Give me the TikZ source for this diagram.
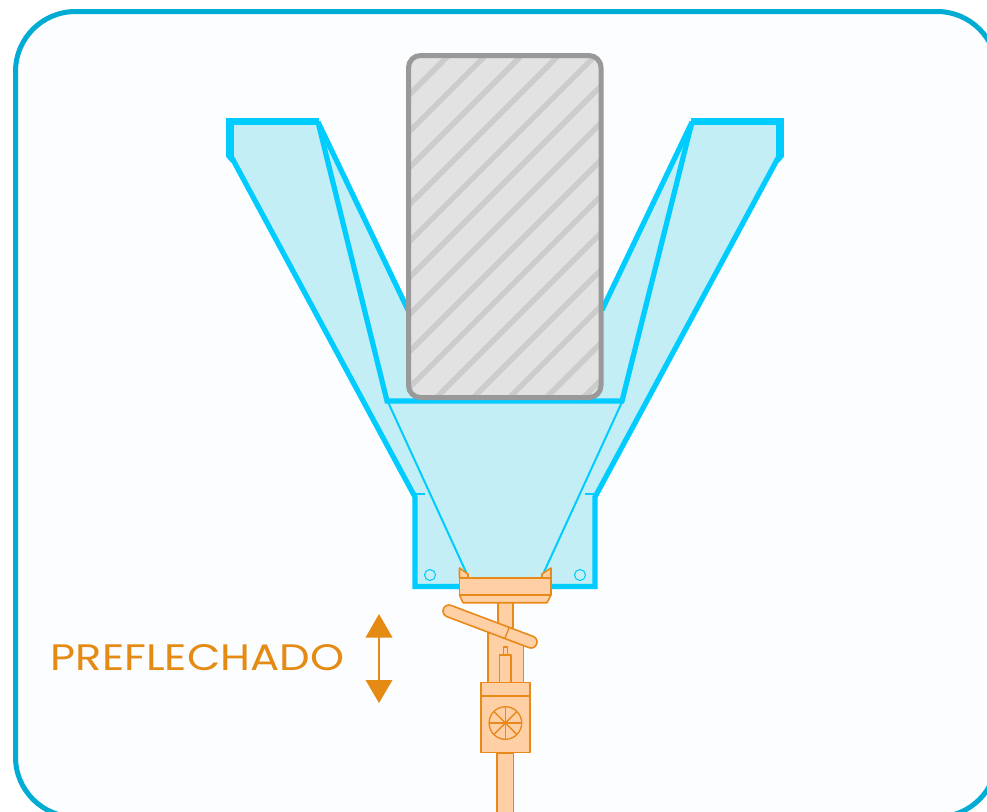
\documentclass[tikz,border=0pt]{standalone}
\usetikzlibrary{calc}
\usepackage{fontspec}
\usepackage{graphicx}
\newfontfamily\labelfont{Poppins}
\definecolor{panelline}{HTML}{00ACD4}
\definecolor{panelfill}{HTML}{FBFDFF}
\definecolor{cyanline}{HTML}{00CCFF}
\definecolor{cyanfill}{HTML}{C3EEF5}
\definecolor{greyline}{HTML}{999999}
\definecolor{greyfill}{HTML}{E2E2E2}
\definecolor{hatchline}{HTML}{CCCCCC}
\definecolor{orline}{HTML}{E8891A}
\definecolor{orfill}{HTML}{FFD0A6}
\definecolor{ortext}{HTML}{E58A12}
\tikzset{
  panel/.style={draw=panelline,fill=panelfill,line width=3.75pt},
  thickcy/.style={draw=cyanline,line width=5.6pt,miter limit=10},
  midcy/.style={draw=cyanline,line width=3.9pt},
  thincy/.style={draw=cyanline,line width=1.5pt},
  hairline/.style={draw=cyanline,line width=0.8pt},
  part/.style={draw=orline,fill=orfill,line width=1.2pt,line join=round},
  partline/.style={draw=orline,line width=1pt},
  hatchstroke/.style={draw=hatchline,line width=4.2pt},
}
\begin{document}
\begin{tikzpicture}[x=0.75pt,y=-0.75pt]
\useasboundingbox (0,0) rectangle (987,811);
\clip (0,0) rectangle (987,811);
\fill[white] (0,0) rectangle (987,811);
\path[panel,rounded corners=45pt] (15.5,11.5) rectangle (997,817);
% funnel fill
\fill[cyanfill] (230,122) -- (319,122) -- (407,310) -- (603,310) -- (692,122) -- (779,122) -- (779,158) -- (595,497) -- (595,586) -- (415,586) -- (415,497) -- (230,158) -- cycle;
% funnel outlines
\draw[midcy] (232,158) -- (415,497) -- (415,586.5) -- (595,586.5) -- (595,497) -- (778,158);
\draw[midcy] (318,122) -- (408,310);
\draw[midcy] (692,122) -- (602,310);
\draw[midcy,line join=miter] (318,122) -- (387,401) -- (622,401) -- (692,122);
\draw[thickcy] (230,157) -- (230,121.5) -- (319,121.5);
\draw[thickcy] (691,121.5) -- (780,121.5) -- (780,157);
\fill[cyanline] (226.3,157) -- (233.7,157) -- (236,160) -- (231,162.5) -- cycle;
\fill[cyanline] (783.7,157) -- (776.3,157) -- (774,160) -- (779,162.5) -- cycle;
\draw[thincy] (388,402) -- (466,572);
\draw[thincy] (622,402) -- (544,572);
\draw[hairline] (416,494) -- (425,494);
\draw[hairline] (594,494) -- (585,494);
\draw[hairline] (430,575) circle (5.5);
\draw[hairline] (580,575) circle (5.5);
% grey block
\begin{scope}
\clip[rounded corners=9pt] (408.5,55.5) rectangle (601,397.5);
\fill[greyfill] (408.5,55.5) rectangle (601,397.5);
\foreach \s in {504,541,577,614,651,687,724,761,797,834,871,907,944,981}{
  \draw[hatchstroke] (\s-420,420) -- (\s-30,30);
}
\end{scope}
\draw[greyline,line width=3.75pt,rounded corners=9pt] (408.5,55.5) rectangle (601,397.5);
% orange mechanism
\path[part] (497,753) rectangle (513.5,830);
\path[part] (488,633) rectangle (523.5,684);
\path[part] (498,602) rectangle (513,628);
\path[part] (503.5,647) rectangle (507.5,655);
\path[part] (499.5,655) rectangle (511,683);
\path[part,rounded corners=4.4pt] (445.5,603.3) -- (538.7,638.5) -- (534.5,649.7) -- (441.3,614.5) -- cycle;
\draw[partline] (509,628) -- (505,638);
\path[part] (481,682.5) rectangle (530,752.5);
\draw[partline] (481,696) -- (530,696);
\draw[partline] (505.4,723) circle (16.3);
\foreach \a in {0,45,...,135}{
  \draw[partline] ($(505.4,723)+(\a:16.3)$) -- ($(505.4,723)+(\a+180:16.3)$);
}
\path[part] (459.5,568) -- (468,574) -- (468,578) -- (459.5,578) -- cycle;
\path[part] (551,568) -- (542,574) -- (542,578) -- (551,578) -- cycle;
\path[part] (459.5,578) rectangle (551,595);
\path[part] (459.5,595) -- (463,602.7) -- (547,602.7) -- (551,595) -- cycle;
% arrow
\coordinate (arrowtop) at (379,637);
\coordinate (arrowbottom) at (379,680);
\draw[orline,line width=1.5pt] (arrowtop) -- (arrowbottom);
\fill[ortext] (379,614) -- (392.5,637.5) -- (365.5,637.5) -- cycle;
\fill[ortext] (379,703) -- (392.5,680) -- (365.5,680) -- cycle;
\node[anchor=base west,inner sep=0pt,text=ortext] (label) at (50.5,670) {\resizebox{220pt}{19.5pt}{\labelfont PREFLECHADO}};
\end{tikzpicture}
\end{document}
